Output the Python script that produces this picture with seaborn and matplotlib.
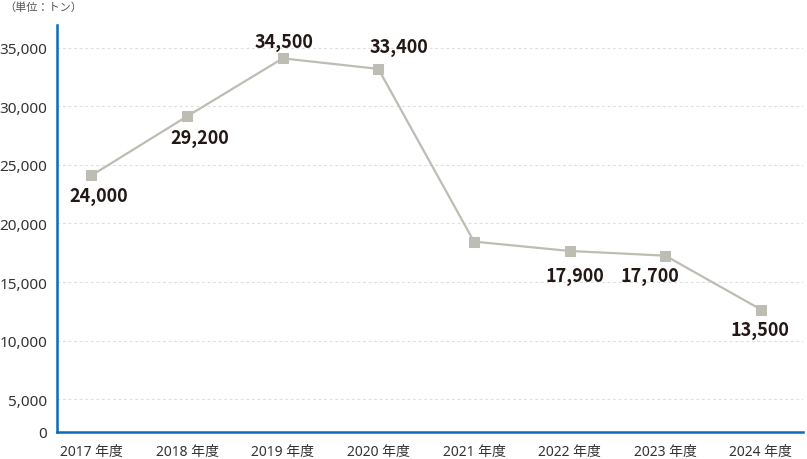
import numpy as np
import pandas as pd
import matplotlib
matplotlib.use("Agg")
import matplotlib.pyplot as plt
import seaborn as sns

# ── Data ──────────────────────────────────────────────────────────────────────
years = ["2017 年度", "2018 年度", "2019 年度", "2020 年度",
         "2021 年度", "2022 年度", "2023 年度", "2024 年度"]
# plotted positions (tons)
volume = [24100, 29150, 34100, 33200, 18450, 17650, 17250, 12650]
# value labels as printed on the chart (2021 has none)
value_labels = ["24,000", "29,200", "34,500", "33,400",
                "", "17,900", "17,700", "13,500"]
y_ticks = [0, 5000, 10000, 15000, 20000, 25000, 30000, 35000]

# label offsets in pixels (dx, dy) relative to the point
label_offsets = [(7, -20), (13, -21), (1, 17), (21, 22),
                 (0, 0), (5, -25), (-15, -20), (-1, -20)]

LINE_COLOR = "#bdbdb4"
AXIS_BLUE = "#0a6cb8"
TEXT_DARK = "#231815"

sns.set_theme(style="white")
plt.rcParams["font.family"] = ["Noto Sans", "Noto Sans CJK JP", "DejaVu Sans"]

df = pd.DataFrame({"pos": np.arange(len(years)), "volume": volume})

fig = plt.figure(figsize=(8.07, 4.60), dpi=100)
ax = fig.add_axes([57 / 807, 27 / 460, (803 - 57) / 807, (433 - 26) / 460])

# compressed segment between 0 and 5,000 (as in the original axis)
K = 33 / 58.7


def fwd(y):
    y = np.asarray(y, dtype=float)
    return np.where(y < 5000, y * K, 5000 * K + (y - 5000))


def inv(v):
    v = np.asarray(v, dtype=float)
    return np.where(v < 5000 * K, v / K, v - 5000 * K + 5000)


ax.set_yscale("function", functions=(fwd, inv))

sns.lineplot(data=df, x="pos", y="volume", ax=ax, color=LINE_COLOR,
             linewidth=1.6, marker="s", markersize=6.5,
             markeredgecolor=LINE_COLOR, markerfacecolor=LINE_COLOR, zorder=3)

for i, (lab, (dx, dy)) in enumerate(zip(value_labels, label_offsets)):
    if not lab:
        continue
    ax.annotate(lab, (i, volume[i]), xytext=(dx, dy), textcoords="offset pixels",
                ha="center", va="center", fontsize=13, fontweight="bold",
                color=TEXT_DARK, family=["Noto Sans CJK JP", "DejaVu Sans"])

ax.set_xlim(-0.36, 7.44)
ax.set_ylim(0, 36950)
ax.set_xticks(range(len(years)))
ax.set_xticklabels(years)
ax.set_yticks(y_ticks)
ax.set_yticklabels([f"{v:,}" for v in y_ticks])
ax.set_xlabel("")
ax.set_ylabel("")

for v in y_ticks[1:]:
    ax.axhline(v, color="#dedede", linewidth=0.8, linestyle=(0, (2.5, 2.5)), zorder=1)

ax.tick_params(axis="both", direction="inout", length=8, width=1.5,
               color="#c8c8c8", labelcolor="#333333", pad=3)
ax.tick_params(axis="x", pad=5, labelsize=10)
ax.tick_params(axis="y", labelsize=11)

sns.despine(ax=ax)
for side in ("left", "bottom"):
    ax.spines[side].set_color(AXIS_BLUE)
    ax.spines[side].set_linewidth(1.8)
    ax.spines[side].set_zorder(2)

fig.text(4 / 807, 1 - 8 / 460, "（単位：トン）", fontsize=8, color="#555555",
         ha="left", va="center")

fig.savefig("out.png", dpi=100)
